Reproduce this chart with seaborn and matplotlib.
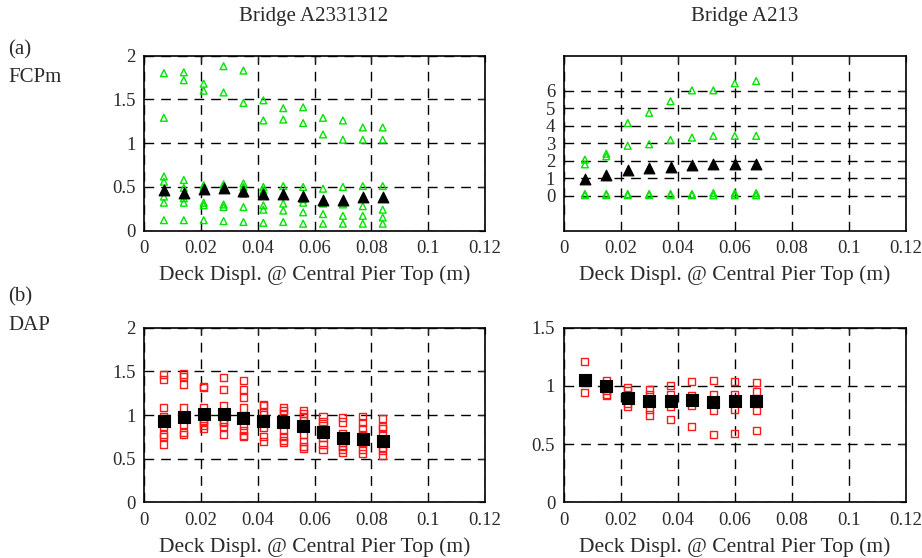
import numpy as np
import pandas as pd
import matplotlib
matplotlib.use("Agg")
import matplotlib.pyplot as plt
import seaborn as sns

sns.set_style("white")
plt.rcParams['font.family'] = ['Liberation Serif', 'DejaVu Serif']

# ---------------- data ----------------
# Bridge A2331312 x positions (deck displacement, m)
x_left = [0.007, 0.014, 0.021, 0.028, 0.035, 0.042, 0.049, 0.056, 0.063, 0.070, 0.077, 0.084]
# Bridge A213 x positions
x_right = [0.0075, 0.015, 0.0225, 0.030, 0.0375, 0.045, 0.0525, 0.060, 0.0675]

# (a) FCPm, Bridge A2331312 - individual samples per x
fcp_left = [
    [1.80, 1.29, 0.62, 0.56, 0.39, 0.32, 0.12],
    [1.81, 1.72, 0.58, 0.49, 0.37, 0.32, 0.12],
    [1.68, 1.60, 0.52, 0.49, 0.32, 0.29, 0.12],
    [1.88, 1.58, 0.53, 0.50, 0.30, 0.27, 0.11],
    [1.83, 1.46, 0.54, 0.50, 0.42, 0.27, 0.10],
    [1.49, 1.26, 0.50, 0.46, 0.29, 0.24, 0.09],
    [1.40, 1.27, 0.51, 0.40, 0.31, 0.23, 0.10],
    [1.41, 1.23, 0.50, 0.36, 0.32, 0.21, 0.08],
    [1.29, 1.10, 0.48, 0.32, 0.31, 0.19, 0.08],
    [1.26, 1.04, 0.50, 0.32, 0.30, 0.17, 0.08],
    [1.18, 1.04, 0.51, 0.38, 0.28, 0.17, 0.08],
    [1.18, 1.04, 0.51, 0.38, 0.24, 0.15, 0.08],
]
fcp_left_mean = [0.47, 0.43, 0.48, 0.49, 0.45, 0.42, 0.42, 0.40, 0.35, 0.35, 0.38, 0.38]

# (a) FCPm, Bridge A213
fcp_right = [
    [2.06, 1.79, 0.10, 0.03],
    [2.40, 2.25, 0.10, 0.03],
    [4.15, 2.85, 0.10, 0.03],
    [4.74, 2.94, 0.10, 0.03],
    [5.40, 3.19, 0.10, 0.03],
    [6.02, 3.32, 0.10, 0.03],
    [6.02, 3.42, 0.15, 0.02],
    [6.42, 3.42, 0.15, 0.02],
    [6.55, 3.42, 0.15, 0.02],
]
fcp_right_mean = [0.94, 1.20, 1.49, 1.58, 1.64, 1.74, 1.79, 1.79, 1.79]

# (b) DAP, Bridge A2331312
dap_left = [
    [1.46, 1.41, 1.09, 0.98, 0.87, 0.78, 0.75, 0.66],
    [1.47, 1.44, 1.35, 1.08, 0.89, 0.80, 0.78],
    [1.33, 1.31, 1.09, 0.94, 0.91, 0.88, 0.85],
    [1.43, 1.29, 1.11, 0.93, 0.91, 0.87, 0.78],
    [1.39, 1.29, 1.20, 1.08, 0.88, 0.82, 0.76, 0.75],
    [1.12, 1.11, 1.03, 1.01, 0.86, 0.75, 0.70],
    [1.09, 1.05, 1.02, 0.82, 0.75, 0.71, 0.69],
    [1.05, 1.02, 0.98, 0.94, 0.78, 0.70, 0.64, 0.62],
    [0.98, 0.93, 0.88, 0.80, 0.74, 0.66, 0.60],
    [0.97, 0.92, 0.79, 0.69, 0.64, 0.60, 0.57],
    [0.98, 0.91, 0.85, 0.78, 0.67, 0.60, 0.56],
    [0.96, 0.87, 0.85, 0.78, 0.63, 0.59, 0.54],
]
dap_left_mean = [0.93, 0.98, 1.01, 1.01, 0.96, 0.93, 0.92, 0.87, 0.80, 0.74, 0.73, 0.70]

# (b) DAP, Bridge A213
dap_right = [
    [1.21, 1.05, 0.94],
    [1.05, 0.96, 0.93, 0.92],
    [0.99, 0.96, 0.85, 0.82],
    [0.97, 0.93, 0.80, 0.75],
    [1.00, 0.93, 0.82, 0.71],
    [1.04, 0.92, 0.83, 0.65],
    [1.05, 0.93, 0.79, 0.58],
    [1.04, 0.93, 0.80, 0.59],
    [1.03, 0.95, 0.79, 0.62],
]
dap_right_mean = [1.05, 1.00, 0.90, 0.87, 0.87, 0.88, 0.86, 0.87, 0.87]

x_ticks = [0, 0.02, 0.04, 0.06, 0.08, 0.1, 0.12]
x_tick_labels = ["0", "0.02", "0.04", "0.06", "0.08", "0.1", "0.12"]
xlabel = "Deck Displ. @ Central Pier Top (m)"
titles = ["Bridge A2331312", "Bridge A213"]


def long_form(xs, groups):
    rows = [(x, v) for x, g in zip(xs, groups) for v in g]
    return pd.DataFrame(rows, columns=["x", "y"])


# ---------------- figure ----------------
fig = plt.figure(figsize=(9.22, 5.58), dpi=100)
W, H = 922, 558


def add_ax(left, top, right, bottom):
    return fig.add_axes([left / W, 1 - bottom / H, (right - left) / W, (bottom - top) / H])


ax_al = add_ax(144, 55.7, 485, 230.7)
ax_ar = add_ax(563.5, 55.7, 906, 230.7)
ax_bl = add_ax(144, 327.7, 485, 502.3)
ax_br = add_ax(563.5, 327.7, 906, 502.3)

GREEN = "#00e400"
RED = "#ff1a1a"
TXT = "#2a2a2a"

panels = [
    (ax_al, x_left, fcp_left, fcp_left_mean, "^", GREEN, (0, 2), [0, 0.5, 1, 1.5, 2]),
    (ax_ar, x_right, fcp_right, fcp_right_mean, "^", GREEN, (-2, 8), [0, 1, 2, 3, 4, 5, 6]),
    (ax_bl, x_left, dap_left, dap_left_mean, "s", RED, (0, 2), [0, 0.5, 1, 1.5, 2]),
    (ax_br, x_right, dap_right, dap_right_mean, "s", RED, (0, 1.5), [0, 0.5, 1, 1.5]),
]

for ax, xs, groups, means, mk, col, ylim, yticks in panels:
    df = long_form(xs, groups)
    sz_pts = 24 if mk == "^" else 26
    sz_mean = 60 if mk == "^" else 85
    sns.scatterplot(data=df, x="x", y="y", ax=ax, marker=mk, s=sz_pts,
                    facecolor="none", edgecolor=col, linewidth=1.0, zorder=3)
    dm = pd.DataFrame({"x": xs, "y": means})
    sns.scatterplot(data=dm, x="x", y="y", ax=ax, marker=mk, s=sz_mean,
                    color="black", edgecolor="black", linewidth=0.8, zorder=4)
    ax.set_xlim(0, 0.12)
    ax.set_ylim(*ylim)
    ax.set_xticks(x_ticks)
    ax.set_xticklabels(x_tick_labels)
    ax.set_yticks(yticks)
    ax.set_yticklabels([f"{t:g}" for t in yticks])
    ax.grid(True, color="black", linestyle=(0, (7, 5)), linewidth=1.0)
    ax.set_axisbelow(True)
    for s in ax.spines.values():
        s.set_visible(True)
        s.set_color("black")
        s.set_linewidth(1.2)
    ax.tick_params(direction="in", length=4, width=0.9, top=True, right=True,
                   labelsize=13.5, labelcolor=TXT, pad=6)
    ax.tick_params(axis="x", pad=7)
    ax.set_xlabel(xlabel, fontsize=15.5, color=TXT, labelpad=6)
    ax.set_ylabel("")

fig.text(314 / W, 1 - 16 / H, titles[0], ha="center", va="center", fontsize=15, color=TXT)
fig.text(745 / W, 1 - 16 / H, titles[1], ha="center", va="center", fontsize=15, color=TXT)
fig.text(8 / W, 1 - 50 / H, "(a)", ha="left", va="center", fontsize=15, color=TXT)
fig.text(8 / W, 1 - 78 / H, "FCPm", ha="left", va="center", fontsize=15, color=TXT)
fig.text(8 / W, 1 - 297 / H, "(b)", ha="left", va="center", fontsize=15, color=TXT)
fig.text(8 / W, 1 - 325 / H, "DAP", ha="left", va="center", fontsize=15, color=TXT)

fig.savefig("out.png", dpi=100)
